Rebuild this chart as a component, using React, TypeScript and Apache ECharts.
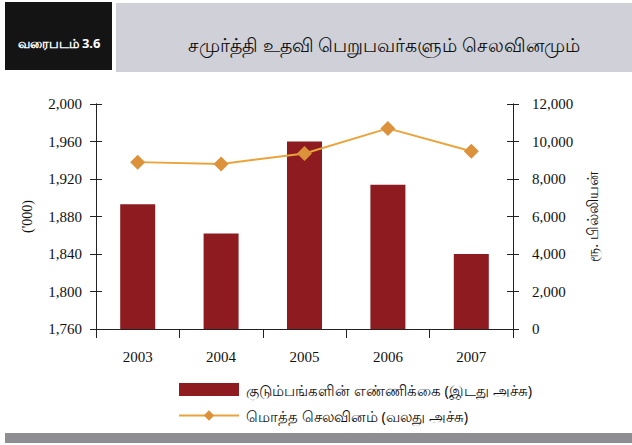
import React, { useEffect, useRef } from "react";
import * as echarts from "echarts";

const years = ["2003", "2004", "2005", "2006", "2007"];
const households = [1893, 1862, 1960, 1914, 1840];
const expenditure = [8900, 8800, 9360, 10700, 9480];
const leftTicks = { min: 1760, max: 2000, interval: 40 };
const rightTicks = { min: 0, max: 12000, interval: 2000 };
const barName = "குடும்பங்களின் எண்ணிக்கை (இடது அச்சு)";
const lineName = "மொத்த செலவினம் (வலது அச்சு)";
const chartTitle = "சமுர்த்தி உதவி பெறுபவர்களும் செலவினமும்";
const figLabel = "வரைபடம் 3.6";
const leftAxisName = "('000)";
const rightAxisName = "ரூ. பில்லியன்";

const serif = "'Liberation Serif', 'DejaVu Serif', serif";
const fmt = (v: number) => v.toLocaleString("en-US");

export default function App() {
  const ref = useRef<HTMLDivElement>(null);
  useEffect(() => {
    if (!ref.current) return;
    const chart = echarts.init(ref.current, undefined, { renderer: "svg" });
    const axisCommon = {
      axisLine: { show: true, lineStyle: { color: "#222", width: 1 } },
      splitLine: { show: false },
    };
    chart.setOption({
      animation: false,
      backgroundColor: "#ffffff",
      graphic: [
        { type: "rect", shape: { x: 5, y: 2, width: 107, height: 68 }, style: { fill: "#141414" } },
        {
          type: "text", x: 59, y: 43,
          style: { text: figLabel, fill: "#ffffff", font: "bold 13px 'Noto Sans', sans-serif", align: "center", verticalAlign: "middle" },
        },
        { type: "rect", shape: { x: 116, y: 3, width: 516, height: 69 }, style: { fill: "#d0d0d8" } },
        {
          type: "text", x: 384, y: 45,
          style: { text: chartTitle, fill: "#111111", font: "500 19px 'Noto Sans', sans-serif", align: "center", verticalAlign: "middle" },
        },
        { type: "rect", shape: { x: 5, y: 433, width: 627, height: 10 }, style: { fill: "#8e8e92" } },
      ],
      legend: {
        orient: "vertical",
        left: 173,
        top: 377,
        itemWidth: 60,
        itemHeight: 13,
        itemGap: 11,
        textStyle: { fontSize: 14.5, color: "#111", padding: [0, 0, 0, 2], fontFamily: "'Noto Sans', sans-serif" },
        data: [
          { name: barName, icon: "rect" },
          { name: lineName },
        ],
      },
      grid: { left: 96, right: 119, top: 104, bottom: 116 },
      xAxis: {
        type: "category",
        data: years,
        boundaryGap: true,
        axisLine: { show: true, lineStyle: { color: "#222", width: 1 } },
        axisTick: { show: true, length: 9, lineStyle: { color: "#222" } },
        axisLabel: { color: "#111", fontSize: 15, fontFamily: serif, margin: 20 },
      },
      yAxis: [
        {
          type: "value", position: "left", ...leftTicks, ...axisCommon,
          axisTick: { show: true, length: 6, lineStyle: { color: "#222" } },
          axisLabel: { color: "#111", fontSize: 15, fontFamily: serif, margin: 14, formatter: fmt },
          name: leftAxisName, nameLocation: "middle", nameGap: 62, nameRotate: 90,
          nameTextStyle: { fontSize: 14, fontFamily: serif, color: "#111" },
        },
        {
          type: "value", position: "right", ...rightTicks, ...axisCommon,
          axisTick: { show: true, length: 6, lineStyle: { color: "#222" } },
          axisLabel: { color: "#111", fontSize: 15, fontFamily: serif, margin: 19, formatter: fmt },
          name: rightAxisName, nameLocation: "middle", nameGap: 66, nameRotate: 90,
          nameTextStyle: { fontSize: 14.5, color: "#111", fontFamily: "'Noto Sans', sans-serif" },
        },
        {
          type: "value", position: "left", ...leftTicks, ...axisCommon,
          axisTick: { show: true, inside: true, length: 6, lineStyle: { color: "#222" } },
          axisLabel: { show: false },
        },
        {
          type: "value", position: "right", ...rightTicks, ...axisCommon,
          axisTick: { show: true, inside: true, length: 6, lineStyle: { color: "#222" } },
          axisLabel: { show: false },
        },
      ],
      series: [
        {
          name: barName,
          type: "bar",
          yAxisIndex: 0,
          data: households,
          barWidth: 35,
          itemStyle: { color: "#8d1b1f" },
        },
        {
          name: lineName,
          type: "line",
          yAxisIndex: 1,
          data: expenditure,
          symbol: "diamond",
          symbolSize: 15,
          lineStyle: { color: "#eaa43c", width: 2 },
          itemStyle: { color: "#dc923a" },
        },
      ],
    });
    return () => chart.dispose();
  }, []);
  return (
    <div
      ref={ref}
      style={{ position: "fixed", left: 0, top: 0, width: 632, height: 445 }}
    />
  );
}
